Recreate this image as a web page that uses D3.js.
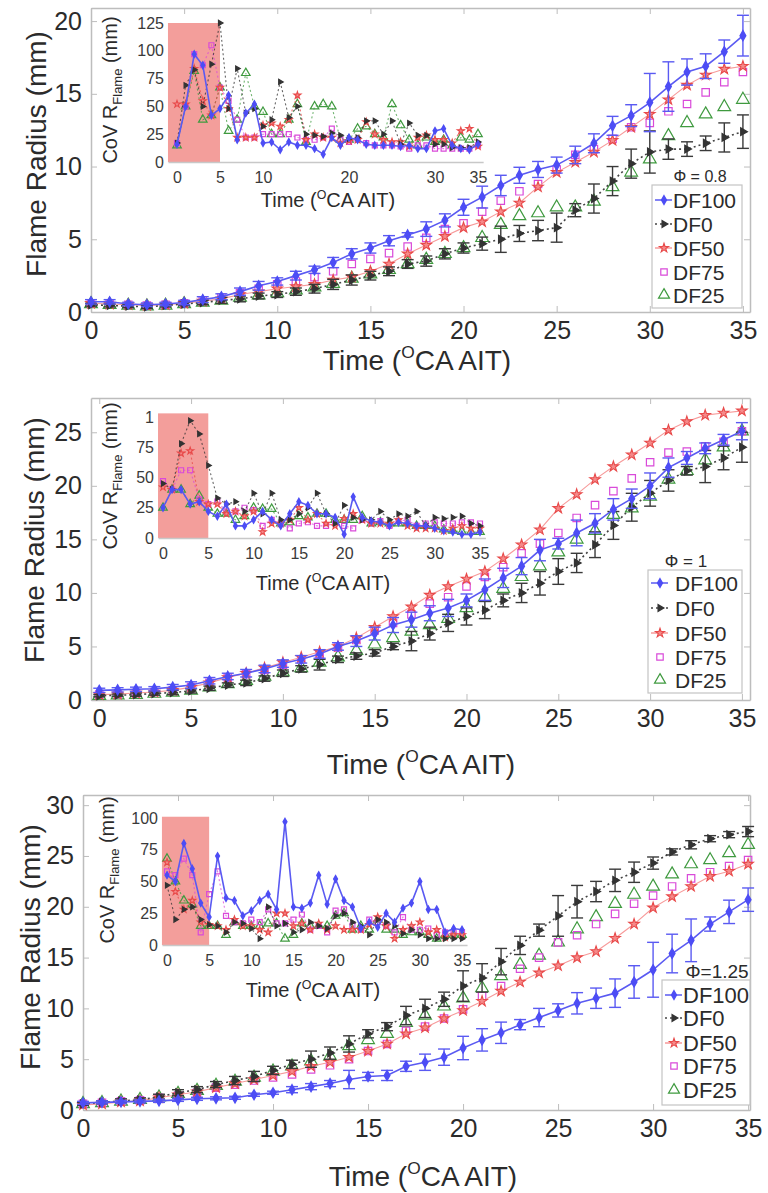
<!DOCTYPE html>
<html lang="en">
<head>
<meta charset="UTF-8">
<title>Flame radius vs time</title>
<script src="https://d3js.org/d3.v7.min.js"></script>
<style>
  body { margin: 0; background: #fff; }
  svg { font-family: "Liberation Sans", Arial, Helvetica, sans-serif; }
</style>
</head>
<body>
<script>
// crank angle after ignition timing, 0..35
const time = d3.range(0, 36);
const seriesNames = ["DF100", "DF0", "DF50", "DF75", "DF25"];

// ---- panel 1, phi = 0.8 ----
const p1_DF100 = [0.7,0.7,0.55,0.5,0.55,0.65,0.85,1.05,1.4,1.8,2.1,2.5,2.9,3.4,4.0,4.4,4.9,5.3,5.7,6.3,7.2,7.9,8.7,9.4,9.8,10.1,10.8,11.6,12.8,13.5,14.4,15.5,16.5,16.9,17.9,19.0];
const p1_DF100_err = [0.15,0.15,0.12,0.12,0.12,0.15,0.2,0.2,0.25,0.3,0.25,0.3,0.25,0.35,0.35,0.35,0.35,0.15,0.5,0.45,0.55,0.75,0.7,0.55,0.55,0.55,0.6,0.65,0.65,0.75,2.0,1.7,0.9,0.85,0.8,1.4];
const p1_DF0 = [0.5,0.45,0.4,0.35,0.45,0.55,0.65,0.8,0.9,1.1,1.2,1.4,1.6,1.9,2.2,2.5,2.8,3.3,3.5,4.0,4.4,4.7,5.0,5.4,5.6,5.8,7.0,7.8,9.0,10.2,11.0,11.2,11.2,11.6,12.0,12.4];
const p1_DF0_err = [0.1,0.1,0.1,0.1,0.1,0.12,0.15,0.2,0.2,0.2,0.2,0.25,0.3,0.35,0.35,0.3,0.3,0.3,0.35,0.35,0.35,0.45,0.9,0.55,0.7,1.0,0.45,1.0,1.0,1.0,1.45,0.7,0.5,0.5,1.0,1.15];
const p1_DF50 = [0.6,0.55,0.5,0.45,0.5,0.6,0.75,0.9,1.2,1.4,1.6,1.75,1.9,2.2,2.4,2.8,3.3,4.0,4.6,5.2,5.8,6.2,6.9,7.5,8.6,9.6,10.3,11.0,11.8,12.7,13.6,14.6,15.6,16.3,16.7,16.9];
const p1_DF75 = [0.6,0.6,0.5,0.45,0.5,0.6,0.8,1.0,1.3,1.6,1.9,2.1,2.4,2.8,3.3,3.65,4.05,4.5,5.1,5.7,6.1,6.9,7.65,8.3,8.8,9.8,10.8,11.2,11.9,12.7,13.0,13.8,14.3,15.1,15.8,16.5];
const p1_DF25 = [0.55,0.5,0.45,0.4,0.45,0.55,0.65,0.8,1.0,1.15,1.3,1.5,1.7,1.95,2.3,2.6,2.9,3.3,3.6,4.0,4.4,5.1,6.0,6.6,6.8,7.2,7.2,7.6,8.6,9.6,10.5,12.1,13.0,13.6,14.1,14.6];
// inset: CoV of flame radius
const i1_DF100 = [16,50,97,87,42,48,60,20,44,52,17,18,11,18,15,15,12,7,22,15,22,20,16,15,15,15,14,15,12,12,28,30,15,12,11,16];
const i1_DF0 = [17,69,83,50,88,125,48,84,44,48,32,38,72,40,50,25,24,23,26,24,21,22,37,37,25,37,16,35,24,24,16,16,13,13,13,18];
const i1_DF50 = [52,52,84,55,42,67,48,22,22,22,33,35,32,38,60,20,25,22,22,17,19,20,36,25,20,18,18,14,22,24,20,20,17,28,30,14];
const i1_DF75 = [17,50,97,87,105,67,55,38,22,22,25,25,25,25,22,20,20,22,30,20,18,20,17,15,15,15,14,12,15,15,12,12,12,12,12,15];
const i1_DF25 = [15,50,82,38,42,67,28,38,80,50,45,25,25,38,52,18,50,52,50,20,20,30,32,25,22,52,33,20,15,22,18,20,15,22,20,25];

// ---- panel 2, phi = 1 ----
const p2_DF100 = [0.9,0.95,1.0,1.05,1.2,1.4,1.8,2.2,2.5,2.9,3.4,3.8,4.3,5.0,5.5,6.2,7.0,7.5,8.1,8.6,9.3,10.3,11.4,12.5,14.0,14.6,15.6,16.5,17.8,18.8,20.0,21.7,22.6,23.5,24.3,25.1];
const p2_DF100_err = [0.2,0.2,0.2,0.2,0.25,0.3,0.3,0.3,0.35,0.35,0.35,0.35,0.4,0.35,0.5,0.6,0.7,0.7,0.7,0.8,0.6,1.0,0.9,0.8,1.0,0.5,1.2,0.9,1.0,0.9,1.2,0.9,0.6,0.5,0.5,0.8];
const p2_DF0 = [0.4,0.45,0.5,0.6,0.7,0.85,1.1,1.4,1.6,2.0,2.5,2.9,3.3,3.8,4.1,4.4,5.0,5.5,6.2,7.2,7.8,8.4,9.3,10.0,10.9,12.0,12.8,14.5,16.3,18.0,19.3,20.5,21.4,21.8,22.6,23.6];
const p2_DF0_err = [0.1,0.1,0.15,0.15,0.2,0.2,0.2,0.2,0.25,0.25,0.3,0.3,0.5,0.3,0.3,0.3,0.3,0.9,0.6,0.8,0.8,0.8,0.6,0.9,1.1,1.2,0.9,1.2,1.3,1.3,1.2,1.0,0.4,1.5,1.1,1.4];
const p2_DF50 = [0.5,0.55,0.65,0.75,0.9,1.2,1.6,2.1,2.5,3.0,3.5,4.0,4.5,5.0,5.8,6.8,7.8,8.7,9.8,10.6,11.3,12.0,13.2,14.5,15.9,17.9,19.2,20.6,21.8,22.9,24.0,25.2,26.0,26.6,26.8,27.0];
const p2_DF75 = [0.5,0.55,0.65,0.75,0.9,1.2,1.6,2.1,2.4,2.8,3.3,3.8,4.3,4.9,5.6,6.5,7.2,8.0,9.0,9.6,10.6,11.5,12.4,13.7,14.6,15.6,17.0,18.2,19.5,20.7,22.2,23.1,23.2,23.7,24.1,25.1];
const p2_DF25 = [0.4,0.45,0.5,0.6,0.7,0.9,1.2,1.5,1.8,2.2,2.6,3.0,3.5,4.0,4.6,5.2,5.8,6.4,7.0,7.6,8.6,9.6,10.4,11.5,12.5,13.8,15.0,15.8,17.3,17.9,19.0,20.6,21.4,22.4,23.6,25.1];
const i2_DF100 = [25,40,40,28,30,22,18,28,10,10,15,22,15,10,20,30,27,20,20,17,3,34,17,14,13,10,13,12,10,10,8,6,5,3,3,5];
const i2_DF0 = [45,40,78,97,86,60,33,28,30,22,37,20,37,15,15,20,25,37,20,12,27,17,15,15,22,15,20,18,22,10,17,16,17,18,12,10];
const i2_DF50 = [42,40,70,72,30,28,28,20,22,18,22,5,12,12,15,25,15,20,12,10,16,20,15,12,12,12,15,10,8,8,8,6,8,10,8,8];
const i2_DF75 = [47,40,56,56,32,28,30,22,22,25,23,10,15,12,8,12,13,10,10,12,10,8,15,12,14,10,14,15,10,12,13,12,12,13,13,12];
const i2_DF25 = [25,40,40,28,35,25,20,20,15,18,25,24,24,12,13,18,17,20,20,15,15,15,18,12,13,12,12,12,10,10,10,7,6,5,5,5];

// ---- panel 3, phi = 1.25 ----
const p3_DF100 = [0.7,0.75,0.8,0.85,0.9,1.0,1.1,1.15,1.2,1.5,1.7,2.0,2.3,2.6,3.0,3.3,3.4,4.3,4.7,5.2,6.1,6.9,7.6,8.4,9.1,9.8,10.5,11.0,11.5,12.6,13.8,15.4,16.7,18.3,19.5,20.7];
const p3_DF100_err = [0.15,0.15,0.15,0.15,0.15,0.15,0.15,0.15,0.15,0.15,0.15,0.3,0.3,0.3,0.9,0.4,0.5,0.5,0.8,0.8,1.15,1.1,1.05,0.5,0.9,0.65,1.05,1.0,1.4,1.6,2.7,1.9,2.1,0.7,1.15,1.15];
const p3_DF0 = [0.6,0.75,0.9,1.0,1.3,1.7,2.0,2.5,2.9,3.3,3.9,4.5,5.0,5.6,6.5,7.5,8.2,9.3,10.0,10.9,12.2,13.0,14.6,16.2,17.7,19.1,20.5,21.5,22.6,23.4,24.3,25.4,26.1,26.7,27.1,27.4];
const p3_DF0_err = [0.15,0.15,0.2,0.2,0.25,0.3,0.3,0.3,0.4,0.5,0.4,0.4,0.8,0.6,0.8,0.4,0.4,0.9,0.9,0.7,1.5,1.4,1.3,0.9,0.6,2.0,1.6,1.0,1.1,1.0,0.6,0.3,0.4,0.3,0.3,0.5];
const p3_DF50 = [0.5,0.6,0.8,0.9,1.2,1.5,1.8,2.2,2.6,3.0,3.4,3.8,4.3,4.7,5.2,5.8,6.5,7.5,8.1,9.0,9.8,10.7,11.7,12.6,13.5,14.2,15.0,15.6,16.9,18.3,19.9,21.0,22.0,23.0,23.5,24.2];
const p3_DF75 = [0.6,0.7,0.85,0.95,1.2,1.4,1.7,2.2,2.5,2.9,3.2,3.5,4.0,4.4,5.0,5.8,6.5,7.8,8.2,9.0,9.9,11.2,12.2,13.9,15.0,16.5,17.2,18.3,19.3,20.3,21.1,22.0,22.8,23.4,24.0,24.6];
const p3_DF25 = [0.6,0.7,0.85,1.0,1.25,1.6,1.9,2.4,2.8,3.2,3.8,4.3,4.8,5.3,6.3,6.9,7.5,8.6,9.3,10.2,11.0,12.0,13.2,14.3,15.2,16.5,17.8,19.0,20.3,21.2,22.0,23.2,24.2,24.6,25.3,26.1];
const i3_DF100 = [55,50,80,60,33,22,70,37,35,23,27,35,40,28,97,30,29,33,55,32,52,35,30,13,18,14,25,18,29,33,50,28,28,10,13,12];
const i3_DF0 = [47,20,28,30,20,16,15,10,18,17,13,5,30,15,17,10,12,18,15,13,23,25,18,15,8,20,18,15,9,12,8,5,5,5,5,5];
const i3_DF50 = [65,42,28,35,18,16,15,12,20,15,15,12,10,25,25,15,17,12,17,12,15,12,12,12,16,22,15,5,12,15,18,10,12,6,8,8];
const i3_DF75 = [58,55,68,55,10,40,58,23,18,17,20,18,28,17,17,20,24,12,15,10,27,28,15,12,20,18,15,10,22,12,12,13,8,10,10,10];
const i3_DF25 = [68,50,35,32,15,15,15,8,18,15,15,15,17,17,5,8,17,15,15,15,23,25,12,15,12,20,12,12,8,10,10,8,5,8,8,8];

// tick labels
const p1_yTicks = [0, 5, 10, 15, 20];
const p2_yTicks = [0, 5, 10, 15, 20, 25];
const p3_yTicks = [0, 5, 10, 15, 20, 25, 30];
const xTicks = [0, 5, 10, 15, 20, 25, 30, 35];
const i1_xTicks = [0, 5, 10, 20, 30, 35];
const i1_yTicks = [0, 25, 50, 75, 100, 125];
const i2_yTicks = [0, 25, 50, 75, 100];
const i2_yLabels = ["0", "25", "50", "75", "1"];
const i3_yTicks = [0, 25, 50, 75, 100];

// marker / line styles per series
const style = {
  DF100: { color: "#4d4df5", fill: "#4d4df5", line: "#5a5af2", dash: null, sym: d3.symbolDiamond, size: 28, rot: 0, lw: 1.4 },
  DF0:   { color: "#333333", fill: "#333333", line: "#444444", dash: "2,3", sym: d3.symbolTriangle, size: 26, rot: 90, lw: 1.2 },
  DF50:  { color: "#e84a4a", fill: "#f58a8a", line: "#f79a9a", dash: null, sym: d3.symbolStar, size: 34, rot: 0, lw: 1.1 },
  DF75:  { color: "#d94ad9", fill: "none", line: null, dash: null, sym: d3.symbolSquare, size: 55, rot: 0, lw: 1.2 },
  DF25:  { color: "#3f9a3f", fill: "none", line: null, dash: null, sym: d3.symbolTriangle, size: 70, rot: 0, lw: 1.2 }
};

const panels = [
  { left: 91, xmin: 0, xmax: 35.38, top: 8, bottom: 312, ymax: 20.9, yTicks: p1_yTicks,
    data: { DF100: p1_DF100, DF0: p1_DF0, DF50: p1_DF50, DF75: p1_DF75, DF25: p1_DF25 },
    err: { DF100: p1_DF100_err, DF0: p1_DF0_err },
    ylabX: 46, ylabY: 154, xtitleY: 370, xtitleX: 417,
    legend: { x: 652, y: 185, w: 90, h: 123, rows: [200, 224, 248, 272, 295], textX: 673, fs: 21,
              phi: "Φ = 0.8", phiX: 700, phiY: 182, phiFs: 16 },
    inset: { x0: 177, x35: 478, y0: 162, yTop: 23, yTopVal: 125, rectL: -1.05, rectTop: 125,
             xTicks: i1_xTicks, yTicks: i1_yTicks, yLabels: null,
             data: { DF100: i1_DF100, DF0: i1_DF0, DF50: i1_DF50, DF75: i1_DF75, DF25: i1_DF25 },
             titleX: 328, titleY: 207, ylabX: 117, ylabY: 90 } },
  { left: 91, xmin: -0.45, xmax: 35.44, top: 398, bottom: 700, ymax: 28.2, yTicks: p2_yTicks,
    data: { DF100: p2_DF100, DF0: p2_DF0, DF50: p2_DF50, DF75: p2_DF75, DF25: p2_DF25 },
    err: { DF100: p2_DF100_err, DF0: p2_DF0_err },
    ylabX: 44, ylabY: 540, xtitleY: 774, xtitleX: 421,
    legend: { x: 648, y: 570, w: 94, h: 123, rows: [583, 608, 633, 657, 680], textX: 675, fs: 21,
              phi: "Φ = 1", phiX: 686, phiY: 567, phiFs: 17 },
    inset: { x0: 163, x35: 480, y0: 538, yTop: 417, yTopVal: 100, rectL: -0.55, rectTop: 103,
             xTicks: xTicks, yTicks: i2_yTicks, yLabels: i2_yLabels,
             data: { DF100: i2_DF100, DF0: i2_DF0, DF50: i2_DF50, DF75: i2_DF75, DF25: i2_DF25 },
             titleX: 323, titleY: 590, ylabX: 117, ylabY: 476 } },
  { left: 83, xmin: 0, xmax: 35.1, top: 795, bottom: 1110, ymax: 31, yTicks: p3_yTicks,
    data: { DF100: p3_DF100, DF0: p3_DF0, DF50: p3_DF50, DF75: p3_DF75, DF25: p3_DF25 },
    err: { DF100: p3_DF100_err, DF0: p3_DF0_err },
    ylabX: 40, ylabY: 947, xtitleY: 1186, xtitleX: 423,
    legend: { x: 662, y: 980, w: 88, h: 125, rows: [995, 1018, 1043, 1066, 1090], textX: 683, fs: 22,
              phi: "Φ=1.25", phiX: 717, phiY: 978, phiFs: 19 },
    inset: { x0: 167, x35: 462, y0: 945, yTop: 818, yTopVal: 100, rectL: -0.6, rectTop: 101,
             xTicks: xTicks, yTicks: i3_yTicks, yLabels: null,
             data: { DF100: i3_DF100, DF0: i3_DF0, DF50: i3_DF50, DF75: i3_DF75, DF25: i3_DF25 },
             titleX: 313, titleY: 997, ylabX: 114, ylabY: 870 } }
];

const svg = d3.select("body").append("svg")
  .attr("width", 768)
  .attr("height", 1193);

const RIGHT = 750;
const axisGrey = "#bdbdbd";
const textCol = "#2b2b2b";

function marker(sel, name, size) {
  const s = style[name];
  sel.attr("d", d3.symbol().type(s.sym).size(size || s.size))
    .attr("fill", s.fill)
    .attr("stroke", s.color)
    .attr("stroke-width", s.lw);
}

// "Time (°CA AIT)" with superscript O
function timeLabel(g, x, y, fs) {
  const t = g.append("text")
    .attr("x", x).attr("y", y)
    .attr("text-anchor", "middle")
    .attr("font-size", fs)
    .attr("fill", textCol);
  t.append("tspan").text("Time (");
  t.append("tspan").attr("font-size", fs * 0.62).attr("dy", -fs * 0.42).text("O");
  t.append("tspan").attr("dy", fs * 0.42).text("CA AIT)");
}

function drawPanel(p) {
  const g = svg.append("g");
  const x = d3.scaleLinear().domain([p.xmin, p.xmax]).range([p.left, RIGHT]);
  const y = d3.scaleLinear().domain([0, p.ymax]).range([p.bottom, p.top]);

  // axes, ticks pointing inward, box on
  const fmtAxis = (a) => {
    a.selectAll("path.domain").attr("stroke", axisGrey).attr("stroke-width", 1.5);
    a.selectAll(".tick line").attr("stroke", axisGrey);
    a.selectAll("text").attr("font-size", 25).attr("fill", textCol)
      .attr("font-family", "Liberation Sans, Arial, sans-serif");
  };
  g.append("g").attr("transform", `translate(0,${p.bottom})`)
    .call(d3.axisBottom(x).tickValues(xTicks).tickSizeInner(-6).tickSizeOuter(0).tickPadding(9))
    .call(fmtAxis);
  g.append("g").attr("transform", `translate(0,${p.top})`)
    .call(d3.axisTop(x).tickValues(xTicks).tickSizeInner(-6).tickSizeOuter(0).tickFormat(""))
    .call(fmtAxis);
  g.append("g").attr("transform", `translate(${p.left},0)`)
    .call(d3.axisLeft(y).tickValues(p.yTicks).tickSizeInner(-6).tickSizeOuter(0).tickPadding(9))
    .call(fmtAxis);
  g.append("g").attr("transform", `translate(${RIGHT},0)`)
    .call(d3.axisRight(y).tickValues(p.yTicks).tickSizeInner(-6).tickSizeOuter(0).tickFormat(""))
    .call(fmtAxis);

  // axis titles
  g.append("text")
    .attr("transform", `translate(${p.ylabX},${p.ylabY}) rotate(-90)`)
    .attr("text-anchor", "middle")
    .attr("font-size", 28)
    .attr("fill", textCol)
    .text("Flame Radius (mm)");
  timeLabel(g, p.xtitleX, p.xtitleY, 28);

  drawInset(g, p.inset);

  // main series, drawn back to front
  const order = ["DF25", "DF75", "DF50", "DF0", "DF100"];
  order.forEach(name => {
    const s = style[name];
    const vals = p.data[name];
    const pts = time.map((t, i) => [t, vals[i]]);
    if (s.line) {
      g.append("path").datum(pts)
        .attr("fill", "none")
        .attr("stroke", s.line)
        .attr("stroke-width", name === "DF50" ? 1.1 : 1.6)
        .attr("stroke-dasharray", s.dash)
        .attr("d", d3.line().x(d => x(d[0])).y(d => y(d[1])));
    }
    if (p.err[name]) {
      const e = p.err[name];
      const eb = g.append("g")
        .attr("stroke", name === "DF100" ? "#5a5af2" : "#3a3a3a")
        .attr("stroke-width", 1.4);
      pts.forEach((d, i) => {
        const cx = x(d[0]), y1 = y(d[1] + e[i]), y2 = y(d[1] - e[i]);
        eb.append("line").attr("x1", cx).attr("x2", cx).attr("y1", y1).attr("y2", y2);
        eb.append("line").attr("x1", cx - 6).attr("x2", cx + 6).attr("y1", y1).attr("y2", y1);
        eb.append("line").attr("x1", cx - 6).attr("x2", cx + 6).attr("y1", y2).attr("y2", y2);
      });
    }
    g.append("g").selectAll("path")
      .data(pts)
      .join("path")
      .attr("transform", d => `translate(${x(d[0])},${y(d[1])}) rotate(${s.rot})`)
      .call(sel => marker(sel, name));
  });

  // legend
  const L = p.legend;
  g.append("text")
    .attr("x", L.phiX).attr("y", L.phiY)
    .attr("text-anchor", "middle")
    .attr("font-size", L.phiFs)
    .attr("fill", textCol)
    .text(L.phi);
  g.append("rect")
    .attr("x", L.x).attr("y", L.y).attr("width", L.w).attr("height", L.h)
    .attr("fill", "#fff").attr("stroke", "#c4c4c4").attr("stroke-width", 1.2);
  seriesNames.forEach((name, i) => {
    const s = style[name];
    const cy = L.rows[i];
    const mx = L.x + 12;
    if (s.line) {
      g.append("line")
        .attr("x1", L.x + 3).attr("x2", L.x + 20)
        .attr("y1", cy).attr("y2", cy)
        .attr("stroke", s.line)
        .attr("stroke-width", 1.5)
        .attr("stroke-dasharray", s.dash);
    }
    g.append("path")
      .attr("transform", `translate(${mx},${cy}) rotate(${s.rot})`)
      .call(sel => marker(sel, name, s.size * 0.75));
    g.append("text")
      .attr("x", L.textX).attr("y", cy)
      .attr("dy", "0.36em")
      .attr("font-size", L.fs)
      .attr("fill", textCol)
      .text(name);
  });
}

function drawInset(g, ins) {
  const per = (ins.x35 - ins.x0) / 35;
  const xi = d3.scaleLinear().domain([ins.rectL, 35.6])
    .range([ins.x0 + ins.rectL * per, ins.x0 + 35.6 * per]);
  const yi = d3.scaleLinear().domain([0, ins.yTopVal]).range([ins.y0, ins.yTop]);

  // shaded early-combustion window 0-5 CA
  g.append("rect")
    .attr("x", xi(ins.rectL))
    .attr("y", yi(ins.rectTop))
    .attr("width", xi(5) - xi(ins.rectL))
    .attr("height", yi(0) - yi(ins.rectTop))
    .attr("fill", "#f39e9b");

  const ax = g.append("g").attr("transform", `translate(0,${ins.y0})`)
    .call(d3.axisBottom(xi).tickValues(ins.xTicks).tickSize(0).tickPadding(10));
  ax.select("path.domain").attr("stroke", "#c8c8c8").attr("stroke-width", 1.5);
  ax.selectAll("text").attr("font-size", 16).attr("fill", "#3a3a3a")
    .attr("font-family", "Liberation Sans, Arial, sans-serif");

  const ay = g.append("g").attr("transform", `translate(${xi(ins.rectL)},0)`)
    .call(d3.axisLeft(yi).tickValues(ins.yTicks).tickSize(0).tickPadding(4)
      .tickFormat((d, i) => ins.yLabels ? ins.yLabels[i] : d));
  ay.select("path.domain").remove();
  ay.selectAll("text").attr("font-size", 16).attr("fill", "#3a3a3a")
    .attr("font-family", "Liberation Sans, Arial, sans-serif");

  timeLabel(g, ins.titleX, ins.titleY, 20);

  const yl = g.append("text")
    .attr("transform", `translate(${ins.ylabX},${ins.ylabY}) rotate(-90)`)
    .attr("text-anchor", "middle")
    .attr("font-size", 20)
    .attr("fill", textCol);
  yl.append("tspan").text("CoV R");
  yl.append("tspan").attr("font-size", 13).attr("dy", 5).text("Flame");
  yl.append("tspan").attr("dy", -5).text(" (mm)");

  const order = ["DF25", "DF75", "DF50", "DF0", "DF100"];
  order.forEach(name => {
    const s = style[name];
    const vals = ins.data[name];
    const pts = time.map((t, i) => [t, vals[i]]);
    g.append("path").datum(pts)
      .attr("fill", "none")
      .attr("stroke", name === "DF100" ? s.line : s.color)
      .attr("stroke-opacity", name === "DF100" ? 1 : 0.75)
      .attr("stroke-width", name === "DF100" ? 1.6 : 1.1)
      .attr("stroke-dasharray", name === "DF100" ? null : "2,2.5")
      .attr("d", d3.line().x(d => xi(d[0])).y(d => yi(d[1])));
    g.append("g").selectAll("path")
      .data(pts)
      .join("path")
      .attr("transform", d => `translate(${xi(d[0])},${yi(d[1])}) rotate(${s.rot})`)
      .call(sel => marker(sel, name, s.size * 0.45));
  });
}

panels.forEach(drawPanel);
</script>
</body>
</html>
